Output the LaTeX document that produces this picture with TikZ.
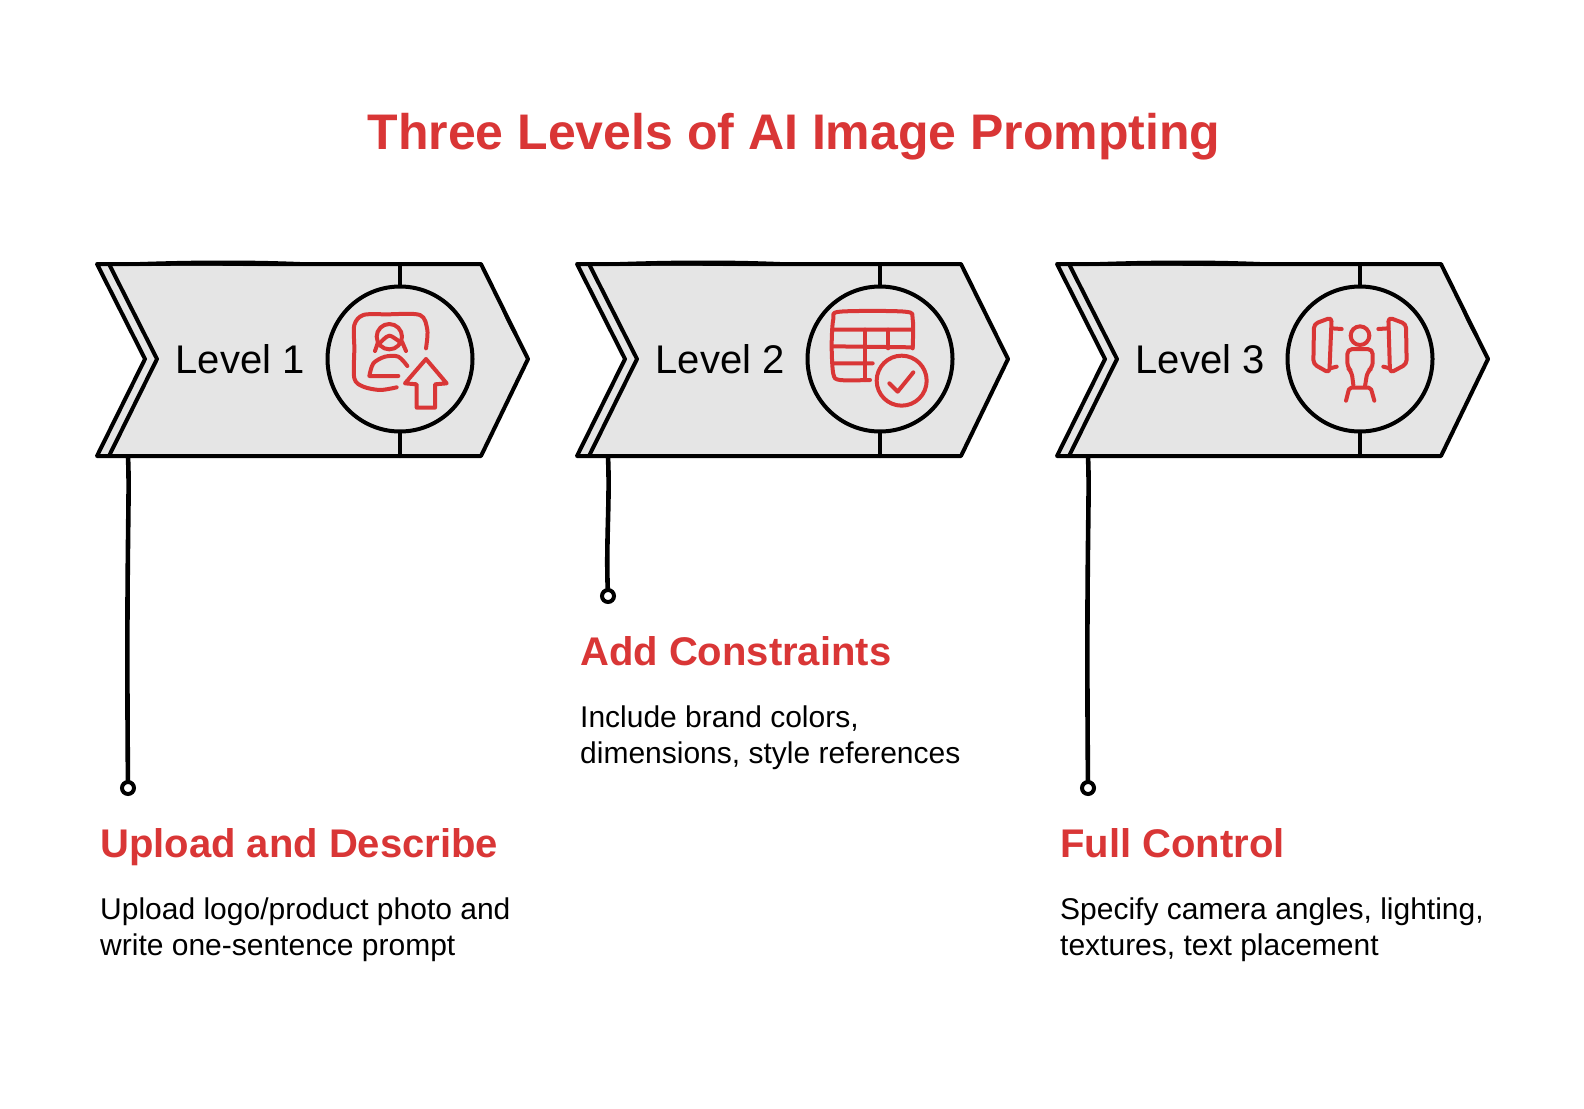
\documentclass[tikz,border=0pt]{standalone}
\usepackage{fontspec}
\setmainfont{Liberation Sans}
\usetikzlibrary{positioning,calc}
\definecolor{promptred}{RGB}{217,54,54}
\definecolor{bandgray}{RGB}{229,229,229}
\tikzset{
  bandln/.style={line width=4pt, line join=round, line cap=round, black},
  stemln/.style={line width=4.6pt, line cap=round, black},
  iconln/.style={line width=4pt, line cap=round, line join=round, promptred},
  ringnode/.style={circle, draw=black, line width=4pt, fill=bandgray, minimum size=145pt, inner sep=0pt},
  dotnode/.style={circle, draw=black, line width=4pt, fill=white, minimum size=12pt, inner sep=0pt},
  lvlnode/.style={anchor=base west, inner sep=0pt, font=\fontsize{40}{44}\selectfont},
  headnode/.style={anchor=base west, inner sep=0pt, text=promptred, font=\fontsize{40}{44}\selectfont\bfseries},
  bodynode/.style={anchor=base west, inner sep=0pt, align=left, font=\fontsize{30}{36}\selectfont},
  iconscope/.style={x=0.3333pt, y=-0.3333pt},
}
\newcommand{\iconupload}{%
  \draw[iconln] plot[smooth] coordinates {(78,-32) (82,-87) (60,-132) (-40,-134) (-110,-132) (-137,-102) (-137,-32) (-137,58) (-110,83) (-60,93) (-10,85)};
  \draw[iconln] (-32,-67) circle (38);
  \draw[iconln] (-75,-24) -- (-66,-50) (18,-24) -- (6,-52);
  \draw[iconln] plot[smooth] coordinates {(-62,-46) (-32,-70) (6,-46)};
  \draw[iconln] plot[smooth] coordinates {(22,21) (-5,-7) (-45,-7) (-80,13) (-92,51)} -- (-5,51);
  \draw[iconln] (78,0) -- (140,73) -- (105,76) -- (105,146) -- (50,146) -- (50,76) -- (15,73) -- cycle;
}
\newcommand{\icontable}{%
  \draw[iconln] plot[smooth] coordinates {(-30,63) (-120,63) (-140,45) (-145,-40) (-140,-120) (-120,-142) (75,-142) (98,-120) (98,-32)};
  \draw[iconln] (-142,-88) -- (98,-88) (-142,-38) -- (98,-35) (-140,13) -- (-22,13);
  \draw[iconln] (-45,-88) -- (-45,63) (25,-88) -- (25,-32);
  \draw[iconln] (65,65) circle (75);
  \draw[iconln] (28,73) -- (53,98) -- (100,40);
}
\newcommand{\iconstudio}{%
  \draw[iconln, rounded corners=4pt] (-85,-125) -- (-138,-105) -- (-140,15) -- (-92,42) -- cycle;
  \draw[iconln] (-85,-92) -- (-55,-90) (-90,28) -- (-70,23);
  \draw[iconln, rounded corners=4pt] (85,-125) -- (138,-105) -- (140,15) -- (90,42) -- cycle;
  \draw[iconln] (85,-92) -- (55,-90) (90,28) -- (70,23);
  \draw[iconln] (0,-70) circle (28);
  \draw[iconln, rounded corners=5pt] (-20,78) -- (-25,38) -- (-38,25) -- (-38,-30) -- (38,-30) -- (38,25) -- (22,38) -- (15,82);
  \draw[iconln, rounded corners=2pt] (-42,125) -- (-32,86) -- (32,86) -- (43,125);
}
\begin{document}
\begin{tikzpicture}[x=1pt, y=-1pt]
  \useasboundingbox (0,0) rectangle (1584,1108);
  \fill[white] (0,0) rectangle (1584,1108);
  \node[inner sep=0pt, text=promptred, font=\fontsize{50}{54}\selectfont\bfseries] (maintitle) at (794,137) {Three Levels of AI Image Prompting};
  % the three bands
  \foreach \n/\xo/\lab/\dy in {1/0/Level 1/788, 2/480/Level 2/596, 3/960/Level 3/788} {
    \begin{scope}[xshift=\xo pt]
      \fill[bandgray] (97,264) -- (145,359) -- (97,456) -- (481,456) -- (528,359) -- (481,264) -- cycle;
      \draw[bandln] (97,264) -- (481,264) -- (528,359) -- (481,456) -- (97,456) -- (145,359) -- cycle;
      \draw[bandln] (109,264) -- (157,359) -- (109,456);
      % heavier stretches of the pen
      \fill (109,263) -- (142,329) .. controls (128,303) and (115,280) .. (109,263);
      \fill (140,262) .. controls (200,260) and (250,260) .. (300,262) -- cycle;
      \fill[bandgray] (120,267) .. controls (170,265.5) and (220,265.5) .. (280,267) -- cycle;
      \node[ringnode] (ring\n) at (400,359) {};
      \coordinate (ringtop\n) at (400,264);
      \coordinate (ringbot\n) at (400,456);
      \draw[bandln] (ringtop\n) -- (ring\n) (ring\n) -- (ringbot\n);
      \node[lvlnode] (level\n) at (175.5,373) {\lab};
      \coordinate (stemtop\n) at (128,457);
      \node[dotnode] (dot\n) at (128,\dy) {};
      \draw[stemln] (stemtop\n) .. controls (130,500) and (126,540) .. (dot\n);
    \end{scope}
  }
  % right tips that are drawn heavier
  \fill (497,297) -- (528,359) .. controls (518,342) and (505,322) .. (497,297);
  \fill (505,404) -- (528,359) .. controls (520,374) and (510,390) .. (505,404);
  \fill (985,404) -- (1008,359) .. controls (1000,374) and (990,390) .. (985,404);
  \fill (1457,297) -- (1488,359) .. controls (1478,342) and (1465,322) .. (1457,297);
  \fill (1465,404) -- (1488,359) .. controls (1480,374) and (1470,390) .. (1465,404);
  % texts under the bands
  \node[headnode] (headone) at (100,857) {Upload and Describe};
  \node[bodynode] (bodyone) at (100,955) {Upload logo/product photo and\\write one-sentence prompt};
  \node[headnode] (headtwo) at (580,665) {Add Constraints};
  \node[bodynode] (bodytwo) at (580,763) {Include brand colors,\\dimensions, style references};
  \node[headnode] (headthree) at (1060,857) {Full Control};
  \node[bodynode] (bodythree) at (1060,955) {Specify camera angles, lighting,\\textures, text placement};
  % icons
  \begin{scope}[shift={(ring1.center)}, iconscope] \iconupload \end{scope}
  \begin{scope}[shift={(ring2.center)}, iconscope] \icontable \end{scope}
  \begin{scope}[shift={(ring3.center)}, iconscope] \iconstudio \end{scope}
\end{tikzpicture}
\end{document}
